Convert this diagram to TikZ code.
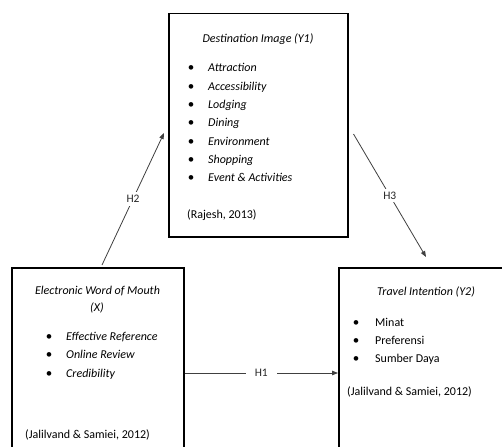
\documentclass[tikz,border=0pt]{standalone}
\usepackage{fontspec}
\setmainfont{Carlito}
\usetikzlibrary{arrows.meta,calc}
\begin{document}
\begin{tikzpicture}[x=1pt,y=-1pt,
  box/.style={draw=black,line width=1.5pt,rectangle,inner sep=0pt,anchor=north west},
  txt/.style={inner sep=0pt,text height=8.5pt,text depth=2.5pt,font=\fontsize{12}{14}\selectfont},
  ttl/.style={txt,font=\fontsize{12}{14}\selectfont\itshape},
  itm/.style={txt,anchor=west},
  itmi/.style={txt,anchor=west,font=\fontsize{12}{14}\selectfont\itshape},
  bul/.style={txt,font=\fontsize{13}{14}\selectfont},
  conn/.style={draw=black!75,line width=0.8pt,-{Triangle[length=6pt,width=4.5pt]}},
  lbl/.style={fill=white,inner sep=3pt,font=\fontsize{11.5}{12}\selectfont,text=black!85}]
\useasboundingbox (0,0) rectangle (502,446);
\clip (0,0) rectangle (502,446);
\fill[white] (0,0) rectangle (502,446);
% boxes
\node[box,minimum width=179pt,minimum height=223pt] (di) at (168,13) {};
\node[box,minimum width=172pt,minimum height=200pt] (ew) at (11,267) {};
\node[box,minimum width=180pt,minimum height=200pt] (ti) at (338,267) {};
% Destination Image
\node[ttl] (dit) at (258,40) {Destination Image (Y1)};
\foreach \t [count=\i] in {Attraction,Accessibility,Lodging,Dining,Environment,Shopping,Event \& Activities}{
  \node[bul] (dib\i) at (191,{69+18.3*(\i-1)}) {•};
  \node[itmi] (dii\i) at (208,{69+18.3*(\i-1)}) {\t};
}
\node[itm] (dis) at (187,215) {(Rajesh, 2013)};
% EWOM
\node[ttl] (ewt1) at (97.5,291) {Electronic Word of Mouth};
\node[ttl] (ewt2) at (97,308) {(X)};
\foreach \t [count=\i] in {Effective Reference,Online Review,Credibility}{
  \node[bul] (ewb\i) at (49,{337+18.5*(\i-1)}) {•};
  \node[itmi] (ewi\i) at (66,{337+18.5*(\i-1)}) {\t};
}
\node[itm] (ews) at (25,435) {(Jalilvand \& Samiei, 2012)};
% Travel Intention
\node[ttl] (tit) at (426,292) {Travel Intention (Y2)};
\foreach \t [count=\i] in {Minat,Preferensi,Sumber Daya}{
  \node[bul] (tib\i) at (356,{323+18*(\i-1)}) {•};
  \node[itm] (tii\i) at (375,{323+18*(\i-1)}) {\t};
}
\node[itm] (tis) at (347,392) {(Jalilvand \& Samiei, 2012)};
% connector ends
\coordinate (h2s) at ($(ew.north west)+(91,-2)$);
\coordinate (h2e) at ($(di.north west)+(-4,120)$);
\coordinate (h3s) at ($(di.north east)+(5,121)$);
\coordinate (h3e) at ($(ti.north west)+(88,-10)$);
\coordinate (h1s) at ($(ew.north east)+(0,106)$);
\coordinate (h1e) at ($(ti.north west)+(0,106)$);
\draw[conn] (h2s) -- node[lbl] {H2} (h2e);
\draw[conn] (h3s) -- node[lbl] {H3} (h3e);
\draw[conn] (h1s) -- node[lbl,inner xsep=9pt] {H1} (h1e);
\end{tikzpicture}
\end{document}
